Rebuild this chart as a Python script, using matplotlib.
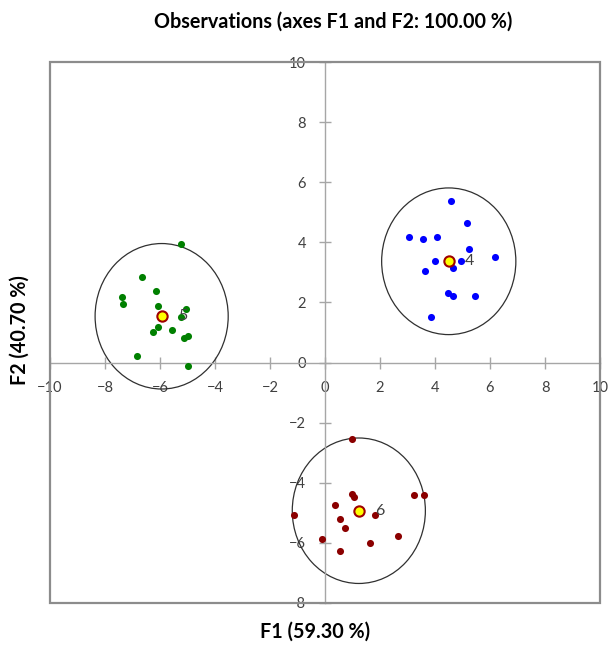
import numpy as np
import matplotlib
matplotlib.use("Agg")
import matplotlib.pyplot as plt
from matplotlib.patches import Circle, Rectangle

plt.rcParams["font.family"] = ["Lato", "DejaVu Sans"]

# observations per group (F1, F2)
green_x = [-5.25, -6.65, -6.15, -7.37, -7.36, -6.07, -5.05, -5.23, -6.07, -6.27, -5.55, -4.99, -5.12, -6.84, -4.99]
green_y = [3.93, 2.83, 2.37, 2.19, 1.96, 1.89, 1.77, 1.53, 1.17, 1.02, 1.09, 0.89, 0.82, 0.21, -0.12]

blue_x = [4.58, 5.16, 3.04, 3.55, 4.07, 5.22, 6.17, 4.00, 4.96, 4.65, 3.62, 4.49, 4.64, 5.47, 3.87]
blue_y = [5.38, 4.64, 4.18, 4.10, 4.18, 3.77, 3.50, 3.38, 3.37, 3.16, 3.04, 2.31, 2.23, 2.23, 1.50]

red_x = [0.99, 0.99, 1.05, 0.35, 3.22, 3.61, -1.12, 1.81, 0.54, 0.74, -0.10, 2.66, 1.63, 0.53]
red_y = [-2.53, -4.38, -4.48, -4.73, -4.40, -4.40, -5.08, -5.08, -5.22, -5.49, -5.88, -5.76, -6.02, -6.28]

# group centroids and confidence circles
centroid_labels = ["5", "4", "6"]
centroid_x = [-5.94, 4.50, 1.23]
centroid_y = [1.54, 3.37, -4.93]
circle_radius = [2.42, 2.44, 2.42]

x_ticks = [-10, -8, -6, -4, -2, 0, 2, 4, 6, 8, 10]
y_ticks = [-8, -6, -4, -2, 0, 2, 4, 6, 8, 10]

fig = plt.figure(figsize=(6.14, 6.53), dpi=100)
ax = fig.add_axes([50 / 614, 50 / 653, 550 / 614, 541 / 653])
ax.set_xlim(-10, 10)
ax.set_ylim(-8, 10)

# axes through the origin
for side in ["top", "right"]:
    ax.spines[side].set_visible(False)
for side in ["left", "bottom"]:
    ax.spines[side].set_position("zero")
    ax.spines[side].set_color("#a6a6a6")
    ax.spines[side].set_linewidth(1.0)

ax.set_xticks(x_ticks)
ax.set_yticks(y_ticks)
ax.tick_params(direction="inout", length=9, width=1.0, color="#a6a6a6",
               labelsize=10.5, labelcolor="#404040", pad=9)

# outer frame
ax.add_patch(Rectangle((0, 0), 1, 1, transform=ax.transAxes, fill=False,
                       edgecolor="#8c8c8c", linewidth=1.6, clip_on=False, zorder=5))

ax.scatter(green_x, green_y, s=26, color="#008000", zorder=3, linewidths=0)
ax.scatter(blue_x, blue_y, s=26, color="#0000ff", zorder=3, linewidths=0)
ax.scatter(red_x, red_y, s=26, color="#8b0000", zorder=3, linewidths=0)

for lab, cx, cy, r in zip(centroid_labels, centroid_x, centroid_y, circle_radius):
    ax.add_patch(Circle((cx, cy), r, fill=False, edgecolor="#303030", linewidth=0.9, zorder=2))
    ax.scatter([cx], [cy], s=55, color="#ffff00", edgecolors="#a00000", linewidths=1.5, zorder=4)
    ax.annotate(lab, (cx, cy), xytext=(15, 0), textcoords="offset points",
                ha="center", va="center", fontsize=11.5, color="#404040", zorder=4)

fig.text(333 / 614, 1 - 22 / 653, "Observations (axes F1 and F2: 100.00 %)",
         ha="center", va="center", fontsize=14.2, fontweight="bold")
fig.text(315 / 614, 1 - 632 / 653, "F1 (59.30 %)",
         ha="center", va="center", fontsize=14.2, fontweight="bold")
fig.text(20 / 614, 1 - 330 / 653, "F2 (40.70 %)", rotation=90,
         ha="center", va="center", fontsize=14.2, fontweight="bold")

fig.savefig("out.png", dpi=100)
